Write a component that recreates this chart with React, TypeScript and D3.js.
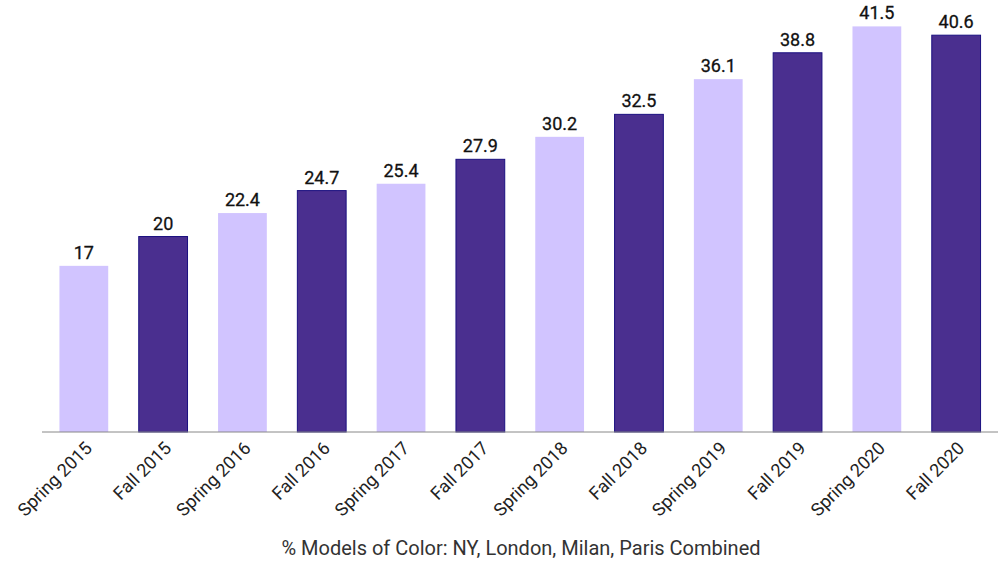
import React from "react";
import * as d3 from "d3";

const seasons = [
  "Spring 2015", "Fall 2015", "Spring 2016", "Fall 2016", "Spring 2017", "Fall 2017",
  "Spring 2018", "Fall 2018", "Spring 2019", "Fall 2019", "Spring 2020", "Fall 2020",
];
const pctModelsOfColor = [17, 20, 22.4, 24.7, 25.4, 27.9, 30.2, 32.5, 36.1, 38.8, 41.5, 40.6];
const axisTitle = "% Models of Color: NY, London, Milan, Paris Combined";

const width = 1000, height = 566;
const baseY = 432;

const App = () => {
  const x = d3.scaleBand().domain(seasons).range([42, 998]).paddingInner(0.385).paddingOuter(0.22);
  const y = d3.scaleLinear().domain([0, 44.2]).range([baseY, 0]);

  return (
    <svg width={width} height={height} style={{ position: "absolute", left: 0, top: 0 }}
      fontFamily="Roboto, sans-serif">
      {seasons.map((s, i) => {
        const v = pctModelsOfColor[i];
        const fall = s.startsWith("Fall");
        const bx = x(s)!;
        const cx = bx + x.bandwidth() / 2;
        return (
          <g key={s}>
            <rect x={bx} y={y(v)} width={x.bandwidth()} height={baseY - y(v)}
              fill={fall ? "#4a2f8f" : "#d1c4ff"}
              stroke={fall ? "#1b1080" : "none"} strokeWidth={1} />
            <text x={cx} y={y(v) - 7} textAnchor="middle"
              fontSize={18} fill="#111" stroke="#111" strokeWidth={0.3}>{v}</text>
            <text transform={`translate(${cx + 6},${baseY + 14}) rotate(-45)`}
              textAnchor="end" dominantBaseline="middle" fontSize={18} fill="#222">{s}</text>
          </g>
        );
      })}
      <line x1={42} x2={998} y1={baseY} y2={baseY} stroke="#888" strokeWidth={1} />
      <text x={521} y={555} textAnchor="middle" fontSize={20} fill="#333">{axisTitle}</text>
    </svg>
  );
};

export default App;
